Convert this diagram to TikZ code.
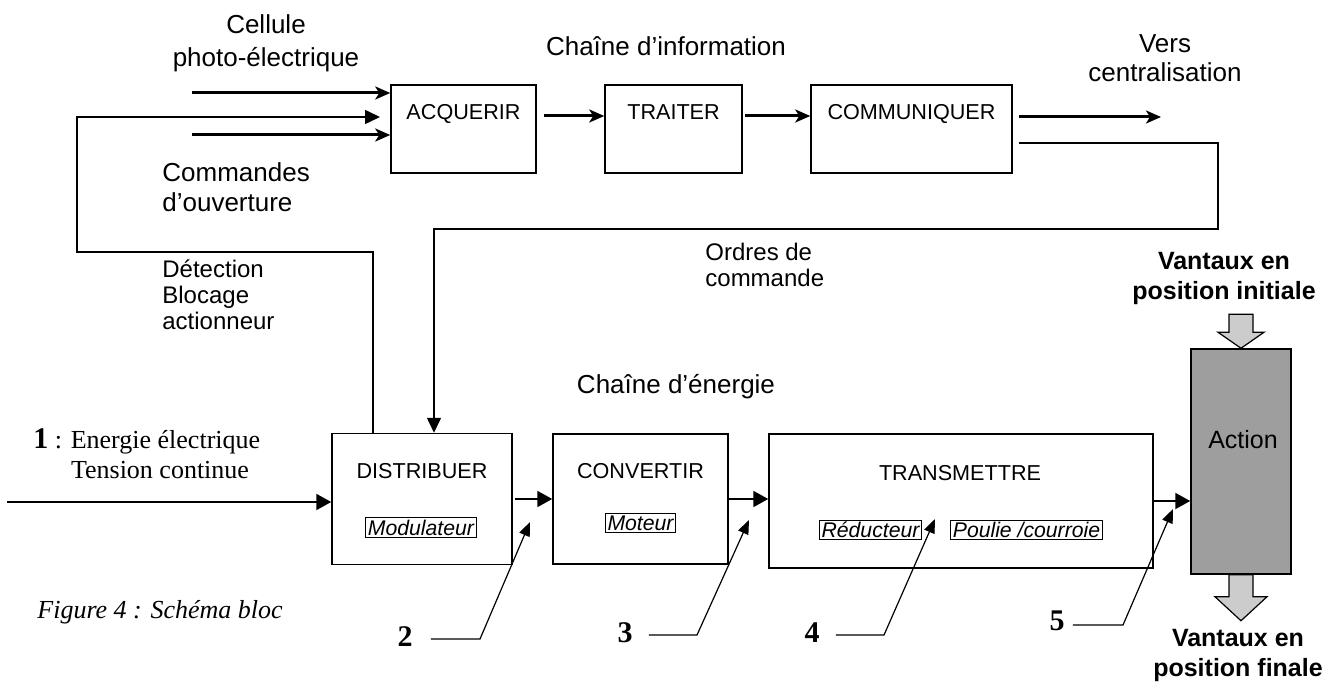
\documentclass[tikz,border=0pt]{standalone}
\usepackage{fontspec}
\setmainfont{Liberation Serif}
\setsansfont{Liberation Sans}
\usetikzlibrary{arrows.meta}
\tikzset{
  blk/.style={draw, line width=0.75pt, inner sep=0pt},
  boxtxt/.style={inner sep=0pt, anchor=base, font=\sffamily\fontsize{10.8}{12}\selectfont},
  sub/.style={draw, line width=0.5pt, inner sep=1pt, font=\sffamily\itshape\fontsize{10.6}{12}\selectfont},
  lbl/.style={inner sep=0pt, font=\sffamily\fontsize{13}{15}\selectfont},
  lblsm/.style={inner sep=0pt, font=\sffamily\fontsize{12}{13}\selectfont},
  vant/.style={inner sep=0pt, align=center, font=\sffamily\bfseries\fontsize{12.5}{15}\selectfont},
  num/.style={inner sep=0pt, font=\rmfamily\bfseries\fontsize{15}{17}\selectfont},
  infoarr/.style={line width=1.5pt, -{Stealth[length=7.5pt,width=6.5pt,inset=2pt]}},
  fbarr/.style={line width=0.8pt, -{Triangle[length=7.5pt,width=7pt]}},
  enarr/.style={line width=1pt, -{Triangle[length=7.5pt,width=8pt]}},
  lead/.style={line width=0.6pt, -{Triangle[length=7pt,width=5.5pt]}},
  blockarr/.style={draw, line width=0.6pt, fill=black!20},
}
\begin{document}
\begin{tikzpicture}[x=0.5pt, y=-0.5pt]
\useasboundingbox (0,0) rectangle (1328,684);

% chaine d'information
\node [blk, minimum width=72.5pt, minimum height=44pt] (acq) at (463.5,129) {};
\node [blk, minimum width=68.5pt, minimum height=44pt] (trt) at (673.5,129) {};
\node [blk, minimum width=100.5pt, minimum height=44pt] (com) at (911.5,129) {};
\node [boxtxt] (acqt) at (463.5,120) {ACQUERIR};
\node [boxtxt] (trtt) at (673.5,120) {TRAITER};
\node [boxtxt] (comt) at (911.5,120) {COMMUNIQUER};

% chaine d'energie
\node [blk, minimum width=90pt, minimum height=65.5pt] (dist) at (422,499) {};
\node [blk, minimum width=87.5pt, minimum height=65pt] (conv) at (640.5,499) {};
\node [blk, minimum width=192pt, minimum height=67pt] (trs) at (961,501) {};
\node [blk, fill=black!38, minimum width=50pt, minimum height=112.5pt] (act) at (1241,461.5) {};
\node [boxtxt] (distt) at (422,478) {DISTRIBUER};
\node [boxtxt] (convt) at (640.5,478) {CONVERTIR};
\node [boxtxt] (trst) at (960,480) {TRANSMETTRE};
\node [lbl, font=\sffamily\fontsize{12.5}{14}\selectfont] (actt) at (1243,440) {Action};
\node [sub] (mod) at (421,527.5) {Modulateur};
\node [sub] (mot) at (640.5,523) {Moteur};
\node [sub] (red) at (870.5,530) {Réducteur};
\node [sub] (pou) at (1026.5,530) {Poulie /courroie};

% textes
\node [lbl, align=center, font=\sffamily\fontsize{13}{16.5}\selectfont] (cel) at (266,43) {Cellule\\photo-électrique};
\node [lbl] (chinf) at (666,46) {Chaîne d’information};
\node [lbl, align=center, font=\sffamily\fontsize{13}{14.5}\selectfont] (verst) at (1165,58) {Vers\\centralisation};
\node [lbl, align=left, anchor=west] (cmd) at (162,187) {Commandes\\d’ouverture};
\node [lblsm, align=left, anchor=west] (det) at (162,295) {Détection\\Blocage\\actionneur};
\node [lblsm, align=left, anchor=west] (ordt) at (705,265) {Ordres de\\commande};
\node [lbl] (chen) at (676,387) {Chaîne d’énergie};
\node [vant] (vini) at (1224,278) {Vantaux en\\position initiale};
\node [vant] (vfin) at (1238,655) {Vantaux en\\position finale};
\node [anchor=west, inner sep=0pt, font=\rmfamily\fontsize{13}{15}\selectfont] (en1) at (33,441) {{\bfseries\fontsize{15}{15}\selectfont 1} : Energie électrique};
\node [inner sep=0pt, font=\rmfamily\fontsize{13}{15}\selectfont] (en2) at (160,470) {Tension continue};
\node [anchor=west, inner sep=0pt, font=\rmfamily\itshape\fontsize{13}{15}\selectfont] (fig) at (37,612) {Figure 4 : Schéma bloc};

% entrees acquerir
\coordinate (in1) at (192,93);
\coordinate (in3) at (192,135);
\draw [infoarr] (in1) -- (in1 -| acq.west);
\draw [infoarr] (in3) -- (in3 -| acq.west);
\coordinate (fb) at (373,252);
\coordinate (fbl) at (77,252);
\coordinate (fbt) at (77,117);
\coordinate (fbe) at (380,117);
\draw [fbarr] (fb |- dist.north) -- (fb) -- (fbl) -- (fbt) -- (fbe);

\draw [infoarr] ([shift={(7,-13)}]acq.east) -- ([yshift=6.5pt]trt.west);
\draw [infoarr] ([shift={(2,-13)}]trt.east) -- ([yshift=6.5pt]com.west);
\coordinate (vers) at (1161,117);
\draw [infoarr] ([shift={(6,-12)}]com.east) -- (vers);
\coordinate (ord) at (1218,229);
\draw [fbarr] ([shift={(6,14)}]com.east) -| (ord) -| ([xshift=6pt]dist.north);

% energie
\coordinate (e1) at (7,502);
\draw [enarr] (e1) -- (e1 -| dist.west);
\draw [enarr] ([xshift=1pt]dist.east) -- (dist.east -| conv.west);
\draw [enarr] (conv.east) -- (conv.east -| trs.west);
\draw [enarr] (trs.east) -- (trs.east -| act.west);

% reperes
\node [num] (n2) at (405,637) {2};
\node [num] (n3) at (625,633) {3};
\node [num] (n4) at (812,633) {4};
\node [num] (n5) at (1057,621) {5};
\coordinate (k2) at (480,639); \coordinate (p2) at (530,522);
\coordinate (k3) at (697,635); \coordinate (p3) at (749,520);
\coordinate (k4) at (884,635); \coordinate (p4) at (935,519);
\coordinate (k5) at (1123,625); \coordinate (p5) at (1173,509);
\draw [lead] ([xshift=9pt]n2.east |- k2) -- (k2) -- (p2);
\draw [lead] ([xshift=8pt]n3.east |- k3) -- (k3) -- (p3);
\draw [lead] ([xshift=8pt]n4.east |- k4) -- (k4) -- (p4);
\draw [lead] ([xshift=4pt]n5.east |- k5) -- (k5) -- (p5);

% fleches vantaux
\draw [blockarr] ([shift={(-12,-34)}]act.north) -- ([shift={(-12,-16)}]act.north) -- ([shift={(-23,-16)}]act.north) -- (act.north) -- ([shift={(23,-16)}]act.north) -- ([shift={(12,-16)}]act.north) -- ([shift={(12,-34)}]act.north) -- cycle;
\draw [blockarr] ([shift={(-12,0)}]act.south) -- ([shift={(-12,22)}]act.south) -- ([shift={(-26,22)}]act.south) -- ([shift={(0,46)}]act.south) -- ([shift={(26,22)}]act.south) -- ([shift={(12,22)}]act.south) -- ([shift={(12,0)}]act.south) -- cycle;
\end{tikzpicture}
\end{document}
